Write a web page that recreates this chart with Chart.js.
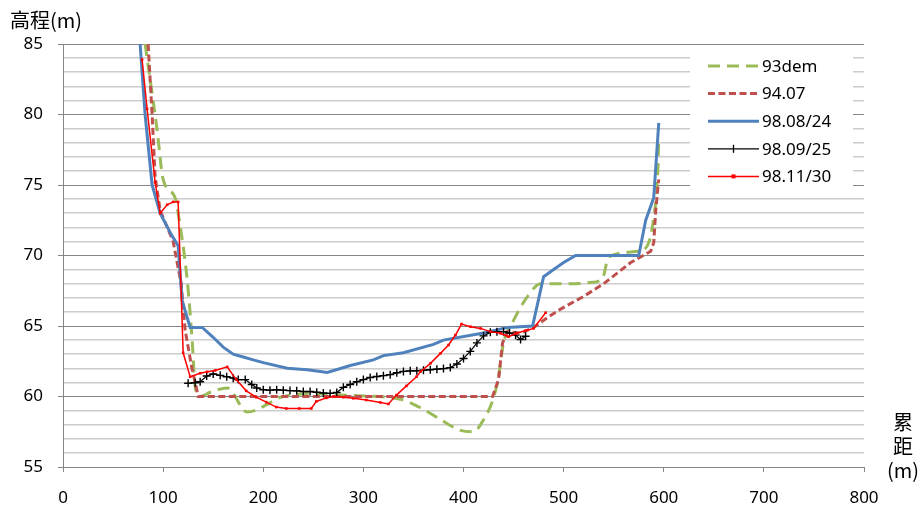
<!DOCTYPE html>
<html>
<head>
<meta charset="utf-8">
<script src="https://cdn.jsdelivr.net/npm/chart.js@4.4.1/dist/chart.umd.min.js"></script>
<style>
  body { margin: 0; background: #fff; }
  #wrap { position: relative; width: 922px; height: 511px; }
  .lbl { position: absolute; font-family: "Noto Sans CJK SC", "Noto Sans", sans-serif; color: #000; font-size: 20px; line-height: 24px; }
</style>
</head>
<body>
<div id="wrap">
  <canvas id="myChart" width="922" height="511"></canvas>
  <div class="lbl" style="left:10px; top:8px;">高程(m)</div>
  <div class="lbl" style="left:885px; top:410px; width:36px; text-align:center;">累<br>距<br>(m)</div>
</div>
<script>
'use strict';

// tick labels
var xTicks = [0, 100, 200, 300, 400, 500, 600, 700, 800];
var yTicks = [55, 60, 65, 70, 75, 80, 85];

// series
var names = ['93dem', '94.07', '98.08/24', '98.09/25', '98.11/30'];

var dem93X = [82, 88, 94, 100, 112, 115, 124, 129, 132, 137, 147, 164, 184, 220, 250, 277, 337, 357, 374, 397, 409, 417, 434, 440, 450, 465, 477, 507, 529, 539, 545, 575, 585, 590, 594, 595];
var dem93Y = [85, 82, 78.9, 75.4, 74.1, 73, 68.3, 64, 60.7, 60, 60.3, 60.6, 58.9, 60.0, 60.2, 60.1, 59.8, 59.2, 58.5, 57.6, 57.5, 58.0, 61.0, 63.8, 65.4, 67.2, 68.0, 68.0, 68.1, 68.4, 69.9, 70.3, 70.9, 72.7, 75.8, 78.2];

var s9407X = [85, 89, 92, 97, 110, 118, 122, 129, 132, 135, 429, 435, 439, 444, 457, 470, 484, 497, 520, 540, 567, 587, 590, 592, 595];
var s9407Y = [85, 80, 75.6, 73.2, 71, 68, 64.7, 61.9, 61.0, 60.0, 60.0, 61.2, 63.8, 64.6, 64.5, 64.9, 65.6, 66.2, 67.1, 68.0, 69.5, 70.3, 70.9, 73.2, 75.4];

var s980824X = [77, 82, 89, 97, 108, 115, 119, 127, 139, 150, 160, 170, 180, 190, 200, 224, 244, 264, 287, 310, 320, 340, 370, 380, 420, 444, 469, 480, 490, 500, 512, 575, 582, 590, 595];
var s980824Y = [85, 80, 75, 73, 71.5, 70.7, 66.8, 64.9, 64.9, 64.2, 63.5, 63.0, 62.8, 62.6, 62.4, 62.0, 61.9, 61.7, 62.2, 62.6, 62.9, 63.1, 63.7, 64.0, 64.5, 64.9, 65.0, 68.5, 69.0, 69.5, 70.0, 70.0, 72.5, 74.1, 79.4];

var s980925X = [125, 132, 137, 143.5, 150, 157, 163.5, 170, 175, 182, 188.5, 193.5, 200, 206.7, 213.4, 220, 226.7, 233.4, 240, 246.8, 253.4, 260, 266.8, 273.4, 280, 286.8, 293.4, 300, 306.8, 313.4, 320, 326.8, 333.4, 340, 346.8, 353.4, 360, 366.8, 373.4, 380, 386.8, 393.4, 400, 406.8, 413.4, 420, 426.8, 433.4, 440, 446, 452, 457, 462];
var s980925Y = [60.94, 60.98, 61.05, 61.45, 61.6, 61.5, 61.4, 61.3, 61.2, 61.2, 60.85, 60.6, 60.48, 60.45, 60.48, 60.45, 60.42, 60.4, 60.35, 60.35, 60.3, 60.25, 60.22, 60.28, 60.65, 60.85, 61.05, 61.2, 61.35, 61.42, 61.48, 61.55, 61.68, 61.78, 61.82, 61.83, 61.86, 61.9, 61.94, 61.98, 62.05, 62.3, 62.7, 63.2, 63.8, 64.3, 64.55, 64.6, 64.6, 64.5, 64.35, 64.04, 64.27];

var s981130X = [79, 84, 92, 97, 104, 110, 115, 120, 127, 137, 144, 152, 164, 173, 183, 193, 203, 213, 223, 236, 248, 253, 263, 270, 280, 290, 303, 317, 325, 333, 343, 353, 357, 367, 377, 385, 392, 398, 407, 417, 427, 437, 445, 453, 462, 470, 482];
var s981130Y = [83.9, 80.4, 75.2, 73.0, 73.6, 73.8, 73.8, 63.1, 61.4, 61.65, 61.75, 61.85, 62.1, 61.2, 60.4, 59.95, 59.6, 59.25, 59.15, 59.15, 59.15, 59.65, 59.9, 60.0, 59.95, 59.87, 59.75, 59.58, 59.47, 60.1, 60.75, 61.4, 61.76, 62.35, 63.06, 63.65, 64.36, 65.14, 64.95, 64.83, 64.6, 64.48, 64.24, 64.48, 64.67, 64.83, 65.94];

function pts(xs, ys) {
  var out = [];
  for (var i = 0; i < xs.length; i++) {
    out.push({ x: xs[i], y: ys[i] });
  }
  return out;
}

var fontMain = '"Noto Sans", sans-serif';

// legend drawn inside the plot, on a white box
var boxLegend = {
  id: 'boxLegend',
  afterDatasetsDraw: function (chart) {
    var ctx = chart.ctx;
    var sets = chart.data.datasets;
    ctx.save();
    ctx.fillStyle = '#fff';
    ctx.fillRect(690, 47, 163, 145);
    ctx.font = '17px ' + fontMain;
    ctx.textBaseline = 'middle';
    for (var i = 0; i < sets.length; i++) {
      var d = sets[i];
      var y = 66 + i * 27.6;
      ctx.strokeStyle = d.borderColor;
      ctx.lineWidth = d.borderWidth;
      ctx.setLineDash(d.borderDash || []);
      ctx.beginPath();
      ctx.moveTo(708, y);
      ctx.lineTo(759, y);
      ctx.stroke();
      ctx.setLineDash([]);
      if (d.pointStyle === 'cross') {
        ctx.lineWidth = 1.3;
        ctx.beginPath();
        ctx.moveTo(733.5, y - 4);
        ctx.lineTo(733.5, y + 4);
        ctx.stroke();
      } else if (d.pointStyle === 'rect') {
        ctx.fillStyle = d.borderColor;
        ctx.fillRect(731.5, y - 2, 4, 4);
      }
      ctx.fillStyle = '#000';
      ctx.fillText(d.label, 762, y + 1);
    }
    ctx.restore();
  }
};

var ctx = document.getElementById('myChart').getContext('2d');

var chart = new Chart(ctx, {
  type: 'scatter',
  data: {
    datasets: [{
      label: names[0],
      data: pts(dem93X, dem93Y),
      showLine: true,
      borderColor: '#9BBB59',
      borderWidth: 3,
      borderDash: [12, 7],
      pointRadius: 0,
      cubicInterpolationMode: 'monotone',
      order: 5
    },
    {
      label: names[1],
      data: pts(s9407X, s9407Y),
      showLine: true,
      borderColor: '#C0504D',
      borderWidth: 3,
      borderDash: [7, 3.5],
      pointRadius: 0,
      order: 4
    },
    {
      label: names[2],
      data: pts(s980824X, s980824Y),
      showLine: true,
      borderColor: '#4F81BD',
      borderWidth: 3,
      pointRadius: 0,
      order: 3
    },
    {
      label: names[3],
      data: pts(s980925X, s980925Y),
      showLine: true,
      borderColor: '#000000',
      backgroundColor: '#000000',
      borderWidth: 1.2,
      pointStyle: 'cross',
      pointRadius: 4,
      pointBorderWidth: 1.4,
      order: 2
    },
    {
      label: names[4],
      data: pts(s981130X, s981130Y),
      showLine: true,
      borderColor: '#FF0000',
      backgroundColor: '#FF0000',
      borderWidth: 1.5,
      pointStyle: 'rect',
      pointRadius: 1.8,
      pointBorderWidth: 0,
      order: 1
    }]
  },
  options: {
    responsive: false,
    animation: false,
    layout: { padding: { left: 0, top: 44, right: 58, bottom: 0 } },
    plugins: {
      legend: { display: false },
      tooltip: { enabled: false }
    },
    scales: {
      x: {
        type: 'linear',
        min: xTicks[0],
        max: xTicks[xTicks.length - 1],
        afterFit: function (s) { s.height = 44; },
        afterBuildTicks: function (s) {
          s.ticks = xTicks.map(function (v) { return { value: v }; });
        },
        ticks: {
          color: '#000',
          padding: 16,
          maxRotation: 0,
          font: { family: fontMain, size: 17 }
        },
        grid: {
          drawOnChartArea: false,
          tickLength: 5,
          tickColor: '#868686'
        },
        border: { color: '#868686', width: 1 }
      },
      y: {
        type: 'linear',
        min: yTicks[0],
        max: yTicks[yTicks.length - 1],
        afterFit: function (s) { s.width = 63; },
        ticks: {
          stepSize: 1,
          autoSkip: false,
          color: '#000',
          padding: 15,
          font: { family: fontMain, size: 17 },
          callback: function (v) { return yTicks.indexOf(v) >= 0 ? String(v) : ''; }
        },
        grid: {
          tickLength: 5,
          lineWidth: function (c) { return yTicks.indexOf(c.tick.value) >= 0 ? 1 : 1.5; },
          color: function (c) { return yTicks.indexOf(c.tick.value) >= 0 ? '#868686' : '#cccccc'; },
          tickColor: function (c) { return yTicks.indexOf(c.tick.value) >= 0 ? '#868686' : 'rgba(0,0,0,0)'; }
        },
        border: { color: '#868686', width: 1 }
      }
    }
  },
  plugins: [boxLegend]
});
</script>
</body>
</html>
